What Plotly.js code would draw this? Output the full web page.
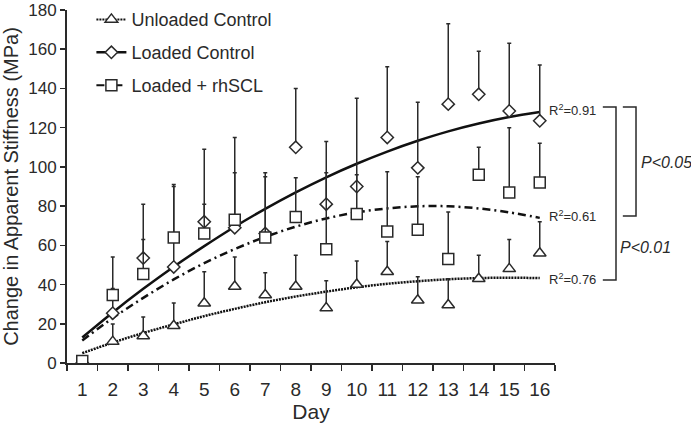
<!DOCTYPE html>
<html>
<head>
<meta charset="utf-8">
<script src="https://cdn.plot.ly/plotly-3.0.1.min.js"></script>
<style>html,body{margin:0;padding:0;background:#fff}#chart{width:691px;height:425px}</style>
</head>
<body>
<div id="chart"></div>
<script>
// ---- data ----
const days = [1,2,3,4,5,6,7,8,9,10,11,12,13,14,15,16];

const unloaded    = [0, 10.9, 13.8, 19, 30.5, 39, 34.7, 39, 28, 40, 46.5, 32, 29.6, 43, 48, 56];
const unloadedErr = [0, 9, 9.7, 11.6, 16, 15, 11.3, 16, 14, 12, 15.5, 12, 13.4, 12, 15, 16];

const loaded      = [0, 25.4, 53.5, 49, 72, 69, 66, 110, 81, 90, 115, 99.5, 132, 137, 128.5, 123.5];
const loadedErr   = [0, 12.6, 27.5, 41, 37, 46, 29, 30, 32, 45, 36, 33.5, 41, 22, 34.5, 28.5];

const rhscl       = [1, 34.7, 45.4, 64, 66, 73, 64, 74.5, 58, 76, 67, 68, 53, 96, 87, 92];
const rhsclErr    = [0, 19.3, 17.6, 27, 15, 24, 33, 20, 39, 20, 30.5, 27, 24, 14, 33, 20];

// fitted curves read at each day
const fitLoaded   = [13, 25.8, 37.8, 49.1, 59.6, 69.5, 78.6, 87, 94.7, 101.6, 107.8, 113.3, 118.1, 122.1, 125.4, 128];
const fitRhscl    = [11.5, 22.9, 33.2, 42.6, 50.9, 58.1, 64.3, 69.5, 73.7, 76.8, 78.8, 79.9, 79.9, 78.8, 76.8, 74];
const fitUnloaded = [5, 10.4, 15.3, 19.7, 23.9, 27.6, 31, 33.9, 36.4, 38.6, 40.4, 41.7, 42.7, 43.3, 43.5, 43.3];

const names = ['Unloaded Control', 'Loaded Control', 'Loaded + rhSCL'];
const r2Labels = ['R<sup>2</sup>=0.91', 'R<sup>2</sup>=0.61', 'R<sup>2</sup>=0.76'];
const pLabels = ['P<0.01', 'P<0.05'];

const INK = '#2a2a2a';
const FONT = 'Liberation Sans, Arial, sans-serif';

function fit(y, dash, w) {
  return {x: days, y: y, type: 'scatter', mode: 'lines', showlegend: false, hoverinfo: 'skip',
    line: {color: '#111', width: w, dash: dash, shape: 'spline', smoothing: 1}};
}
function pts(y, err, sym, size) {
  return {x: days, y: y, type: 'scatter', mode: 'markers', showlegend: false,
    marker: {symbol: sym, size: size, color: '#fff', line: {color: INK, width: 1.5}},
    error_y: {type: 'data', symmetric: false, array: err, arrayminus: days.map(() => 0),
      color: INK, thickness: 1.5, width: 2}};
}
function leg(name, sym, size, dash, grp) {
  return {x: [null], y: [null], type: 'scatter', mode: 'lines+markers', name: name, legendgroup: grp,
    marker: {symbol: sym, size: size, color: '#fff', line: {color: INK, width: 1.5}},
    line: {color: '#111', width: dash === 'solid' ? 2.5 : 2, dash: dash}};
}

const traces = [
  fit(fitUnloaded, '2px,1px', 2.5),
  fit(fitRhscl, '8px,4px,2px,4px', 2.5),
  fit(fitLoaded, 'solid', 2.5),
  pts(unloaded, unloadedErr, 'triangle-up', 11),
  pts(loaded, loadedErr, 'diamond', 9.5),
  pts(rhscl, rhsclErr, 'square', 11),
  leg(names[0], 'triangle-up', 11, '2px,1px', 'a'),
  leg(names[1], 'diamond', 9.5, 'solid', 'b'),
  leg(names[2], 'square', 11, '8px,4px,2px,4px', 'c')
];

const halfTicks = days.map(d => d - 0.5).concat([16.5]);

const layout = {
  width: 691, height: 425,
  margin: {l: 67, r: 136, t: 10, b: 62, autoexpand: false},
  paper_bgcolor: '#fff', plot_bgcolor: '#fff',
  font: {family: FONT, color: INK, size: 16},
  showlegend: true,
  legend: {x: 0.05, y: 1.025, xanchor: 'left', yanchor: 'top', bgcolor: 'rgba(0,0,0,0)',
    font: {size: 18, family: FONT, color: INK}, tracegroupgap: 6.5, traceorder: 'grouped'},
  xaxis: {
    range: [0.5, 16.5], tickmode: 'array', tickvals: days, ticktext: days.map(String),
    ticks: 'outside', ticklen: 8, tickcolor: 'rgba(0,0,0,0)',
    minor: {tickmode: 'array', tickvals: halfTicks, ticks: 'outside', ticklen: 6, tickwidth: 1.5, tickcolor: INK},
    showline: true, linecolor: INK, linewidth: 2, showgrid: false, zeroline: false,
    tickfont: {size: 19, family: FONT, color: INK},
    title: {text: 'Day', font: {size: 21, family: FONT, color: INK}, standoff: 4}
  },
  yaxis: {
    range: [0, 180], tickmode: 'linear', tick0: 0, dtick: 20,
    ticks: 'outside', ticklen: 5, tickwidth: 1.5, tickcolor: INK,
    showline: true, linecolor: INK, linewidth: 2, showgrid: false, zeroline: false,
    tickfont: {size: 17, family: FONT, color: INK},
    title: {text: 'Change in Apparent Stiffness (MPa)', font: {size: 20, family: FONT, color: INK}, standoff: 8}
  },
  annotations: [
    {xref: 'paper', yref: 'y', x: 0.984, y: fitLoaded[15] + 1, text: r2Labels[0], xanchor: 'left', yanchor: 'middle', showarrow: false, font: {size: 13, family: FONT, color: INK}},
    {xref: 'paper', yref: 'y', x: 0.984, y: fitRhscl[15] + 1, text: r2Labels[1], xanchor: 'left', yanchor: 'middle', showarrow: false, font: {size: 13, family: FONT, color: INK}},
    {xref: 'paper', yref: 'y', x: 0.984, y: fitUnloaded[15] - 0.5, text: r2Labels[2], xanchor: 'left', yanchor: 'middle', showarrow: false, font: {size: 13, family: FONT, color: INK}},
    {xref: 'paper', yref: 'y', x: 1.13, y: 59, text: '<i>' + pLabels[0].replace('<', '&lt;') + '</i>', xanchor: 'left', yanchor: 'middle', showarrow: false, font: {size: 16, family: FONT, color: INK}},
    {xref: 'paper', yref: 'y', x: 1.172, y: 102, text: '<i>' + pLabels[1].replace('<', '&lt;') + '</i>', xanchor: 'left', yanchor: 'middle', showarrow: false, font: {size: 16, family: FONT, color: INK}}
  ],
  shapes: [
    {type: 'path', xref: 'paper', yref: 'y', path: 'M 1.098 130.5 L 1.125 130.5 L 1.125 42.3 L 1.098 42.3', line: {color: INK, width: 1.5}},
    {type: 'path', xref: 'paper', yref: 'y', path: 'M 1.139 130.5 L 1.166 130.5 L 1.166 75 L 1.139 75', line: {color: INK, width: 1.5}}
  ]
};

Plotly.newPlot('chart', traces, layout, {staticPlot: true});
</script>
</body>
</html>
